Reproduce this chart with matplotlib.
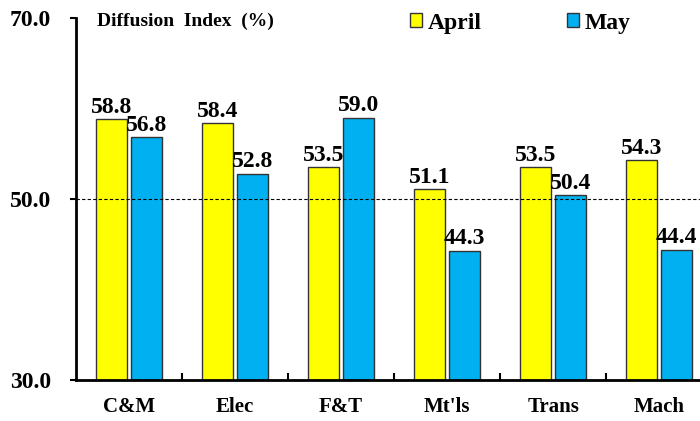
import matplotlib.pyplot as plt
import numpy as np

categories = ["C&M", "Elec", "F&T", "Mt'ls", "Trans", "Mach"]
april = [58.8, 58.4, 53.5, 51.1, 53.5, 54.3]
may = [56.8, 52.8, 59.0, 44.3, 50.4, 44.4]
yticks = [30.0, 50.0, 70.0]

plt.rcParams['font.family'] = ['Liberation Serif', 'DejaVu Serif']
plt.rcParams['font.weight'] = 'bold'

fig = plt.figure(figsize=(7, 4.21), dpi=100)
ax = fig.add_axes([0.1086, 0.0974, 0.909, 0.860])

x = np.arange(len(categories))
w = 0.29
b1 = ax.bar(x - 0.165, april, w, color='#FFFF00', edgecolor='#333333', linewidth=1, label='April')
b2 = ax.bar(x + 0.165, may, w, color='#00B0F0', edgecolor='#333333', linewidth=1, label='May')

for bars, vals in [(b1, april), (b2, may)]:
    ax.bar_label(bars, labels=[f"{v:.1f}" for v in vals], padding=1,
                 fontsize=17, fontweight='bold')

ax.axhline(50, color='black', linestyle='--', linewidth=0.8, dashes=(3, 2))

ax.set_xlim(-0.5, len(categories) - 0.5)
ax.set_ylim(30, 70)
ax.set_yticks(yticks)
ax.set_yticklabels([f"{v:.1f}" for v in yticks], fontsize=17, fontweight='bold')
ax.tick_params(axis='y', direction='out', length=4, width=1.5, pad=14)

# group boundaries as inward ticks, labels on minor ticks at centres
ax.set_xticks(np.arange(0.5, len(categories) - 0.5, 1))
ax.set_xticklabels([])
ax.tick_params(axis='x', which='major', direction='in', length=5, width=1.5)
ax.set_xticks(x, minor=True)
ax.set_xticklabels(categories, minor=True, fontsize=15, fontweight='bold')
ax.tick_params(axis='x', which='minor', length=0, pad=12)

ax.spines['top'].set_visible(False)
ax.spines['right'].set_visible(False)
ax.spines['left'].set_linewidth(2)
ax.spines['bottom'].set_linewidth(2)

ax.text(0.033, 0.99, "Diffusion  Index  (%)", transform=ax.transAxes,
        fontsize=14, fontweight='bold', va='center', ha='left')

ax.legend(loc='center left', bbox_to_anchor=(0.525, 0.986), ncol=2, frameon=False,
          handlelength=0.5, handleheight=0.5, handletextpad=0.25, columnspacing=3.6,
          prop={'size': 17, 'weight': 'bold'}, borderaxespad=0, borderpad=0)

fig.savefig("out.png", dpi=100)
